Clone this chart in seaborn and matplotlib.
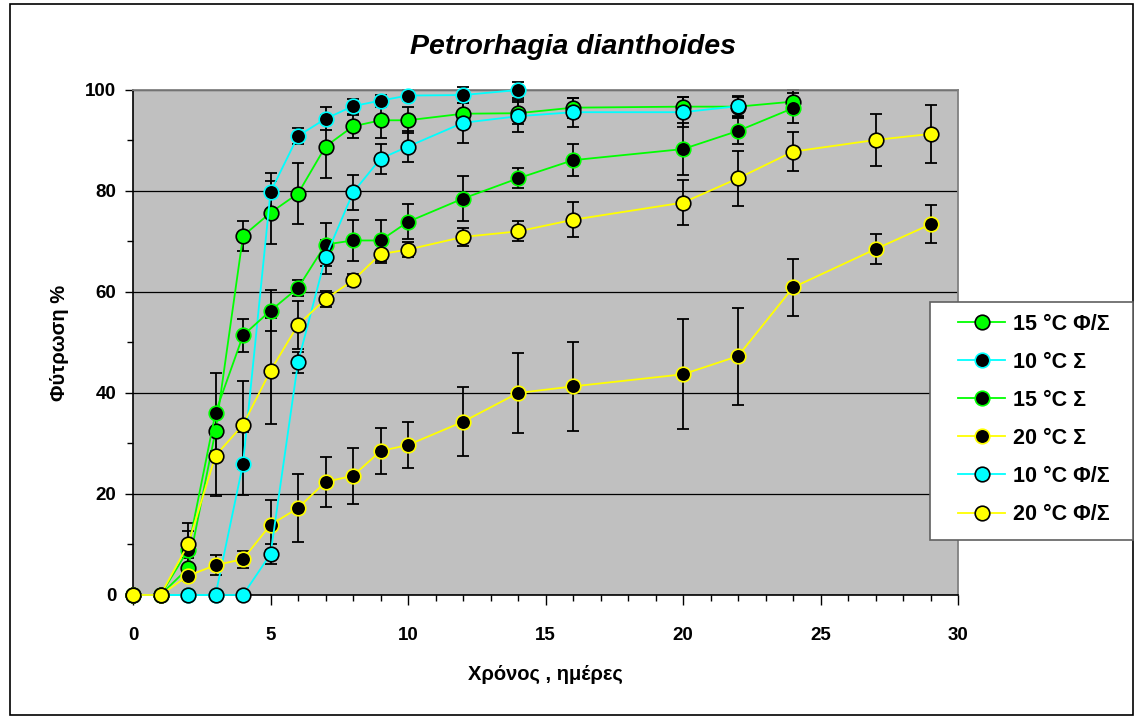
import matplotlib
matplotlib.use('Agg')
import matplotlib.pyplot as plt
import numpy as np
import pandas as pd
import seaborn as sns
from matplotlib.patches import Rectangle
from matplotlib.ticker import MultipleLocator

plt.rcParams['font.family'] = ['Liberation Sans', 'DejaVu Sans']
plt.rcParams['font.weight'] = 'bold'

# days of measurement
days_15 = [0, 1, 2, 3, 4, 5, 6, 7, 8, 9, 10, 12, 14, 16, 20, 22, 24]
days_10s = [0, 1, 2, 3, 4, 5, 6, 7, 8, 9, 10, 12, 14]
days_10fs = [0, 1, 2, 3, 4, 5, 6, 7, 8, 9, 10, 12, 14, 16, 20, 22]
days_20 = [0, 1, 2, 3, 4, 5, 6, 7, 8, 9, 10, 12, 14, 16, 20, 22, 24, 27, 29]

# germination % and error
g15_fs = [0, 0, 5.3, 32.5, 71.1, 75.7, 79.5, 88.8, 92.8, 94.0, 94.0, 95.3, 95.4, 96.5, 96.7, 96.7, 97.7]
g15_fs_err = [0, 0, 2, 4, 2.9, 6.2, 6.0, 6.2, 2.3, 3.6, 2.6, 2.2, 2.2, 2.0, 2.0, 2.0, 2.3]

c10_s = [0, 0, 0, 0, 26.0, 79.8, 90.9, 94.3, 96.8, 97.9, 98.9, 99.0, 100.0]
c10_s_err = [0, 0, 0, 0, 6.2, 3.7, 1.5, 2.3, 1.5, 1.2, 1.0, 1.5, 1.5]

g15_s = [0, 0, 8.9, 36.1, 51.4, 56.3, 60.8, 69.4, 70.2, 70.2, 73.9, 78.5, 82.5, 86.1, 88.3, 91.9, 96.4]
g15_s_err = [0, 0, 3.8, 7.8, 3.2, 4.0, 1.5, 4.3, 4.1, 4.1, 3.5, 4.4, 2.0, 3.2, 5.1, 2.5, 3.0]

y20_s = [0, 0, 3.8, 5.9, 7.1, 13.9, 17.2, 22.4, 23.6, 28.5, 29.7, 34.3, 40.0, 41.3, 43.7, 47.3, 60.9, 68.5, 73.4]
y20_s_err = [0, 0, 1, 2, 1.7, 5.0, 6.7, 4.9, 5.5, 4.6, 4.6, 6.8, 8, 8.8, 10.9, 9.6, 5.6, 2.9, 3.8]

c10_fs = [0, 0, 0, 0, 0, 8.1, 46.1, 66.9, 79.7, 86.4, 88.8, 93.5, 94.8, 95.6, 95.6, 96.8]
c10_fs_err = [0, 0, 0, 0, 0, 2, 2.1, 3.4, 3.5, 3.0, 3.1, 4.0, 3.2, 2.9, 3.0, 2.0]

y20_fs = [0, 0, 10.0, 27.6, 33.7, 44.4, 53.5, 58.6, 62.3, 67.5, 68.4, 70.9, 72.0, 74.3, 77.7, 82.5, 87.8, 90.1, 91.3]
y20_fs_err = [0, 0, 4.3, 8, 8.7, 10.5, 4.8, 1.5, 1.2, 1.8, 1.5, 1.8, 2, 3.5, 4.5, 5.4, 3.9, 5.1, 5.8]

GREEN, CYAN, YELLOW = '#00FF00', '#00FFFF', '#FFFF00'

# label, x, y, err, line colour, face colour, edge colour
series = [
    ('15 °C Φ/Σ', days_15, g15_fs, g15_fs_err, GREEN, GREEN, 'black'),
    ('10 °C Σ', days_10s, c10_s, c10_s_err, CYAN, 'black', CYAN),
    ('15 °C Σ', days_15, g15_s, g15_s_err, GREEN, 'black', GREEN),
    ('20 °C Σ', days_20, y20_s, y20_s_err, YELLOW, 'black', YELLOW),
    ('10 °C Φ/Σ', days_10fs, c10_fs, c10_fs_err, CYAN, CYAN, 'black'),
    ('20 °C Φ/Σ', days_20, y20_fs, y20_fs_err, YELLOW, YELLOW, 'black'),
]

fig = plt.figure(figsize=(11.35, 7.17), dpi=100)
ax = fig.add_axes([0.1172, 0.1702, 0.7269, 0.7043])
ax.set_facecolor('#C0C0C0')

for i, (lab, x, y, err, lc, fc, ec) in enumerate(series):
    ax.errorbar(x, y, yerr=err, fmt='none', ecolor='black', elinewidth=1.3,
                capsize=4.5, capthick=1.3, zorder=2 + i * 0.1, clip_on=False)
for i, (lab, x, y, err, lc, fc, ec) in enumerate(series):
    df = pd.DataFrame({'day': x, 'pct': y})
    sns.lineplot(data=df, x='day', y='pct', ax=ax, color=lc, linewidth=1.3,
                 marker='o', markersize=10.5, markerfacecolor=fc,
                 markeredgecolor=ec, markeredgewidth=1.2, label=lab,
                 zorder=3 + i * 0.1, clip_on=False, errorbar=None)

ax.set_xlim(0, 30)
ax.set_ylim(0, 100)
ax.xaxis.set_major_locator(MultipleLocator(5))
ax.xaxis.set_minor_locator(MultipleLocator(1))
ax.yaxis.set_major_locator(MultipleLocator(20))
ax.yaxis.set_minor_locator(MultipleLocator(10))
ax.grid(axis='y', which='major', color='black', linewidth=0.9)
ax.set_axisbelow(True)
ax.tick_params(axis='x', which='major', length=7, width=1, pad=16, labelsize=13.5)
ax.tick_params(axis='x', which='minor', length=4, width=1)
ax.tick_params(axis='y', which='major', length=6, width=1, pad=6, labelsize=13.5)
ax.tick_params(axis='y', which='minor', length=4, width=1)
for sp in ['top', 'right']:
    ax.spines[sp].set_color('#808080')
    ax.spines[sp].set_linewidth(1.3)
for sp in ['left', 'bottom']:
    ax.spines[sp].set_color('black')
    ax.spines[sp].set_linewidth(1.2)

ax.set_xlabel('Χρόνος , ημέρες', fontsize=14.5, fontweight='bold', labelpad=15)
ax.set_ylabel('Φύτρωση %', fontsize=14.5, fontweight='bold', labelpad=12)
fig.text(0.505, 0.934, 'Petrorhagia dianthoides', fontsize=20.5, fontweight='bold',
         style='italic', ha='center', va='center')

# legend box drawn separately so its size can match
fig.patches.append(Rectangle((930 / 1135, 1 - 540 / 717), 203 / 1135, 238 / 717,
                             transform=fig.transFigure, facecolor='white',
                             edgecolor='#606060', linewidth=1.2, zorder=9))
handles, labels = ax.get_legend_handles_labels()
ax.get_legend().remove()
leg = fig.legend(handles, labels, loc='upper left',
                 bbox_to_anchor=(958 / 1135, 1 - 314 / 717),
                 bbox_transform=fig.transFigure, frameon=False,
                 prop={'size': 15.5, 'weight': 'bold'},
                 handlelength=2.2, labelspacing=0.79, borderpad=0,
                 handletextpad=0.35, borderaxespad=0)
leg.set_zorder(10)

fig.patches.append(Rectangle((0.009, 0.003), 0.989, 0.992, transform=fig.transFigure,
                             fill=False, edgecolor='black', linewidth=1.2))

fig.savefig('out.png', dpi=100)
